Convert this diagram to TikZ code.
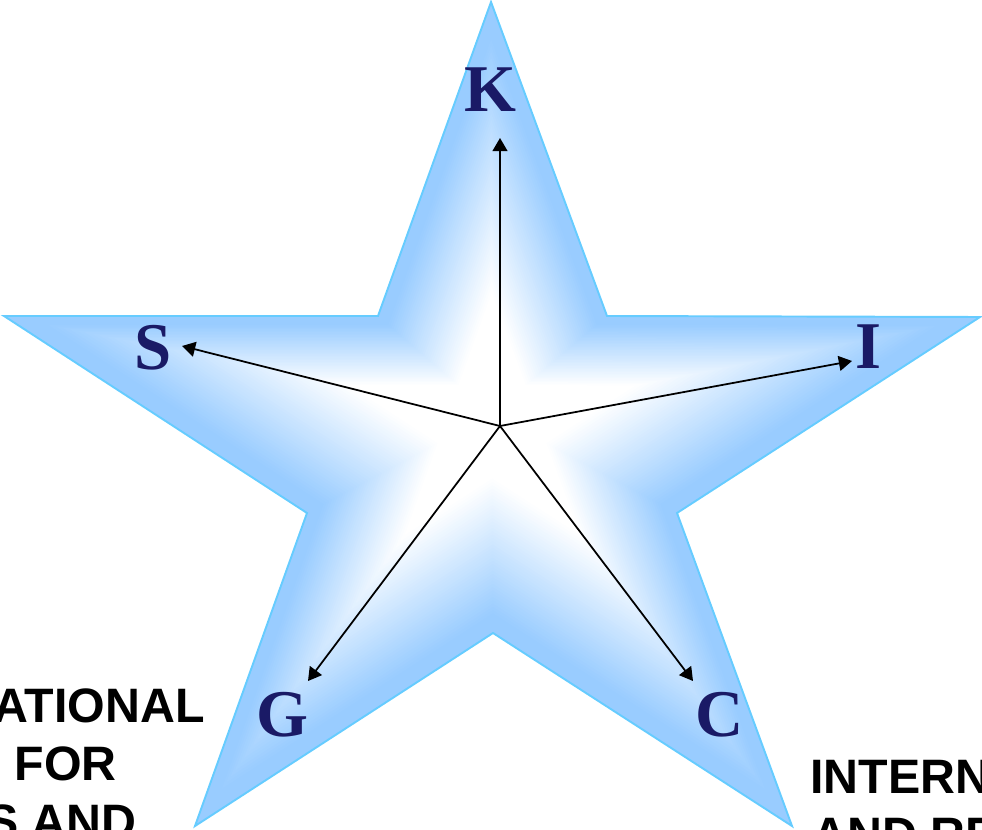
\documentclass[tikz,border=0pt]{standalone}
\usepackage{fontspec}
\setmainfont{Liberation Serif}
\newfontfamily\capsfont{Liberation Sans}
\usetikzlibrary{arrows.meta}

\definecolor{starblue}{RGB}{153,204,255}
\definecolor{starline}{RGB}{102,204,255}
\definecolor{lettercol}{RGB}{26,26,102}

% star outline, relative to its centre
\newcommand{\starshape}{(-1,-412) -- (115,-98) -- (488,-97) -- (185,99) -- (300,412)
  -- (1,219) -- (-297,412) -- (-185,99) -- (-488,-98) -- (-114,-98) -- cycle}

\begin{document}
\begin{tikzpicture}[x=0.02cm,y=-0.02cm,
    letter/.style={text=lettercol,font=\fontsize{38}{40}\selectfont\bfseries,inner sep=0pt},
    caption/.style={font=\fontsize{27.5}{30}\selectfont\capsfont\bfseries,inner sep=0pt},
    arrowline/.style={line width=1pt,-{Triangle[length=7.5pt,width=8.5pt]}}]

\useasboundingbox (0,0) rectangle (982,830);

% Shaded star (nested copies, white in the middle)
\foreach \s [evaluate=\s as \p using {max(0,min(100,(\s-0.3)/0.62*100))}] in {1.00,0.985,...,0.01}
  \fill[starblue!\p!white, shift={(492,414)}, scale=\s] \starshape;
\draw[starline, line width=1.1pt, shift={(492,414)}] \starshape;

% Letters at the points
\node[letter] (kay) at (490,90) {K};
\node[letter] (ess) at (153,348) {S};
\node[letter] (eye) at (868,347) {I};
\node[letter] (gee) at (282,715) {G};
\node[letter] (cee) at (720,715) {C};

% Arrow ends
\coordinate (o) at (500,426);
\coordinate (kend) at (500,138);
\coordinate (send) at (182,346);
\coordinate (iend) at (852,361);
\coordinate (gend) at (308,681);
\coordinate (cend) at (693,681);

\draw[arrowline] (o) -- (kend);
\draw[arrowline] (o) -- (send);
\draw[arrowline] (o) -- (iend);
\draw[arrowline] (o) -- (gend);
\draw[arrowline] (o) -- (cend);

% Cut-off captions
\node[caption,anchor=base east] (left1) at (205,722) {ATIONAL};
\node[caption,anchor=base east] (left2) at (117,780) {E FOR};
\node[caption,anchor=base east] (left3) at (137,838) {S AND};
\node[caption,anchor=base west] (right1) at (810,793) {INTERN};
\node[caption,anchor=base west] (right2) at (812,851) {AND RE};

\end{tikzpicture}
\end{document}
